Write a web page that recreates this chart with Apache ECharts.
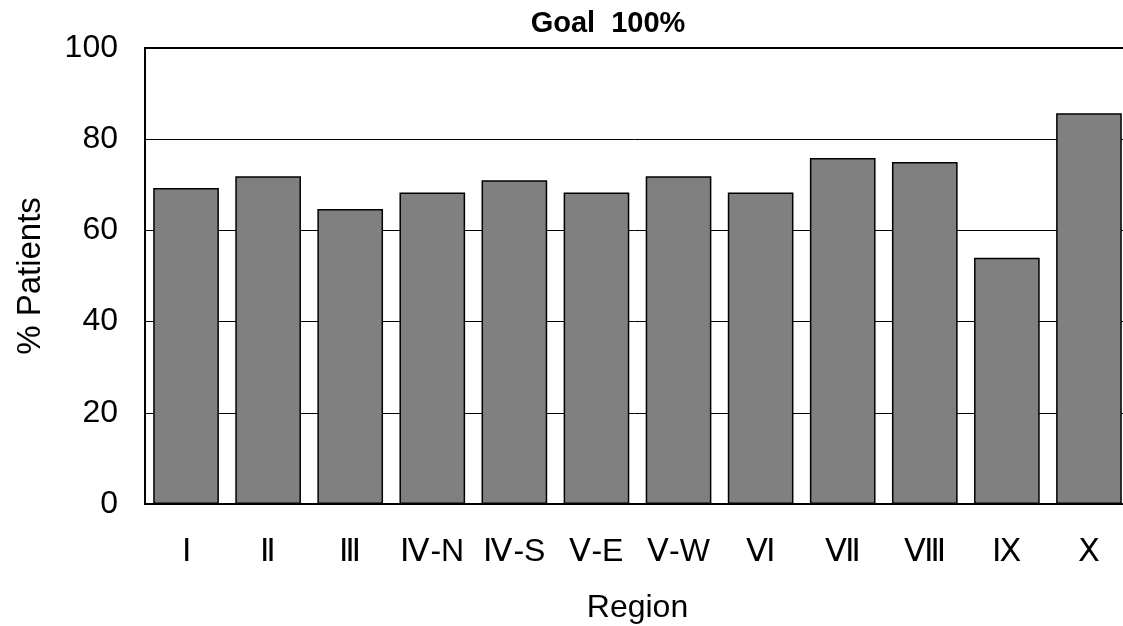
<!DOCTYPE html>
<html>
<head>
<meta charset="utf-8">
<script src="https://cdn.jsdelivr.net/npm/echarts@6/dist/echarts.min.js"></script>
<style>
  html, body { margin: 0; padding: 0; background: #fff; }
  #chart { width: 1123px; height: 626px; }
</style>
</head>
<body>
<div id="chart"></div>
<script>
// Share of patients per region
const regions = ['Ⅰ', 'Ⅱ', 'Ⅲ', 'Ⅳ-N', 'Ⅳ-S', 'Ⅴ-E', 'Ⅴ-W', 'Ⅵ', 'Ⅶ', 'Ⅷ', 'Ⅸ', 'Ⅹ'];
const patientPct = [69.3, 71.9, 64.7, 68.3, 71.0, 68.3, 71.9, 68.3, 75.9, 75.0, 54.0, 85.7];
const yTicks = { min: 0, max: 100, interval: 20 };

const FONT = '"Liberation Sans", Arial, sans-serif';

const chart = echarts.init(document.getElementById('chart'), null, { renderer: 'canvas' });
chart.setOption({
  backgroundColor: '#ffffff',
  animation: false,
  title: {
    text: 'Goal  100%',
    left: 603,
    top: 4,
    textAlign: 'center',
    textStyle: { fontFamily: FONT, fontSize: 29, fontWeight: 'bold', color: '#000' }
  },
  grid: {
    left: 145, top: 48, width: 985, height: 456,
    containLabel: false,
    outerBoundsMode: 'none',
    show: true, borderColor: '#000', borderWidth: 2, backgroundColor: 'transparent'
  },
  xAxis: {
    type: 'category',
    data: regions,
    name: 'Region',
    nameLocation: 'middle',
    nameGap: 88,
    nameTextStyle: { fontFamily: FONT, fontSize: 32, color: '#000' },
    axisLine: { show: true, lineStyle: { color: '#000', width: 2 } },
    axisTick: { show: false },
    axisLabel: { fontFamily: FONT, fontSize: 32, color: '#000', margin: 32, interval: 0 }
  },
  yAxis: {
    type: 'value',
    min: yTicks.min,
    max: yTicks.max,
    interval: yTicks.interval,
    name: '% Patients',
    nameLocation: 'middle',
    nameGap: 98,
    nameTextStyle: { fontFamily: FONT, fontSize: 33, color: '#000' },
    axisLine: { show: true, lineStyle: { color: '#000', width: 2 } },
    axisTick: { show: false },
    axisLabel: { fontFamily: FONT, fontSize: 32, color: '#000', margin: 27 },
    splitLine: { show: true, lineStyle: { color: '#000', width: 1 } }
  },
  series: [{
    type: 'bar',
    data: patientPct,
    barCategoryGap: '20%',
    itemStyle: { color: '#808080', borderColor: '#000', borderWidth: 1.5 }
  }]
});
</script>
</body>
</html>
